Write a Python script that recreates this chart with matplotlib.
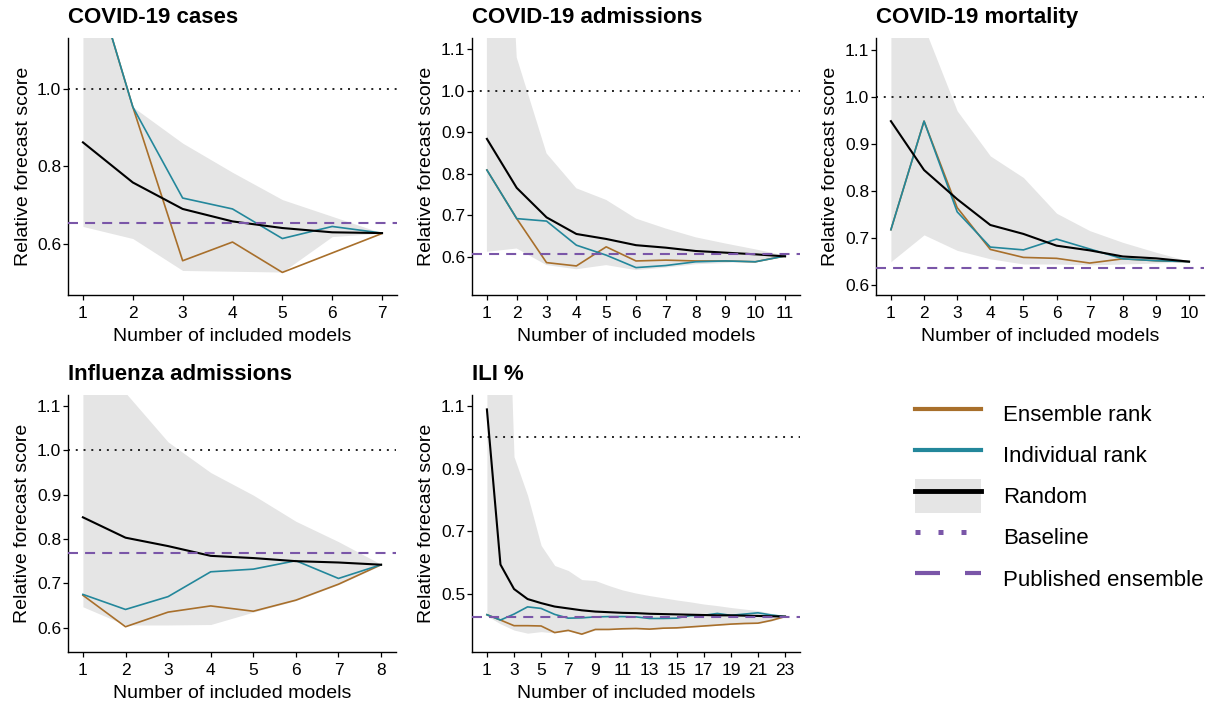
import matplotlib
matplotlib.use('Agg')
import matplotlib.pyplot as plt
from matplotlib.lines import Line2D
from matplotlib.patches import Patch
from matplotlib.ticker import FormatStrFormatter

plt.rcParams['font.family'] = ['Liberation Sans', 'DejaVu Sans']

# values (relative forecast score per number of models)
cases_n = [1, 2, 3, 4, 5, 6, 7]
cases_ensemble = [1.38, 0.953, 0.558, 0.606, 0.528, 0.578, 0.628]
cases_individual = [1.38, 0.953, 0.719, 0.691, 0.615, 0.646, 0.629]
cases_random = [0.862, 0.759, 0.691, 0.659, 0.642, 0.631, 0.629]
cases_upper = [1.38, 0.953, 0.860, 0.785, 0.715, 0.672, 0.629]
cases_lower = [0.646, 0.615, 0.533, 0.531, 0.529, 0.620, 0.629]
cases_published = 0.655

adm_n = [1, 2, 3, 4, 5, 6, 7, 8, 9, 10, 11]
adm_ensemble = [0.809, 0.692, 0.586, 0.578, 0.624, 0.590, 0.592, 0.590, 0.590, 0.588, 0.602]
adm_individual = [0.809, 0.692, 0.686, 0.628, 0.604, 0.574, 0.579, 0.588, 0.590, 0.588, 0.602]
adm_random = [0.884, 0.766, 0.695, 0.655, 0.643, 0.628, 0.622, 0.614, 0.610, 0.606, 0.601]
adm_upper = [2.5, 1.08, 0.849, 0.765, 0.737, 0.692, 0.668, 0.647, 0.632, 0.618, 0.603]
adm_lower = [0.612, 0.620, 0.580, 0.570, 0.580, 0.568, 0.574, 0.582, 0.585, 0.590, 0.600]
adm_published = 0.606

mort_n = [1, 2, 3, 4, 5, 6, 7, 8, 9, 10]
mort_ensemble = [0.718, 0.949, 0.765, 0.676, 0.659, 0.657, 0.647, 0.656, 0.652, 0.650]
mort_individual = [0.718, 0.949, 0.756, 0.681, 0.675, 0.698, 0.677, 0.656, 0.652, 0.650]
mort_random = [0.949, 0.845, 0.783, 0.728, 0.709, 0.684, 0.674, 0.661, 0.657, 0.650]
mort_upper = [1.3, 1.15, 0.971, 0.875, 0.829, 0.753, 0.716, 0.691, 0.670, 0.651]
mort_lower = [0.650, 0.707, 0.674, 0.656, 0.645, 0.645, 0.643, 0.645, 0.647, 0.650]
mort_published = 0.637

flu_n = [1, 2, 3, 4, 5, 6, 7, 8]
flu_ensemble = [0.673, 0.602, 0.635, 0.649, 0.637, 0.662, 0.698, 0.742]
flu_individual = [0.675, 0.641, 0.670, 0.726, 0.732, 0.751, 0.711, 0.742]
flu_random = [0.849, 0.803, 0.784, 0.762, 0.757, 0.750, 0.747, 0.742]
flu_upper = [1.5, 1.13, 1.019, 0.950, 0.899, 0.840, 0.794, 0.743]
flu_lower = [0.647, 0.606, 0.606, 0.607, 0.635, 0.661, 0.697, 0.741]
flu_published = 0.769

ili_n = list(range(1, 24))
ili_ensemble = [0.434, 0.417, 0.399, 0.399, 0.398, 0.377, 0.384, 0.372, 0.387, 0.387,
                0.389, 0.390, 0.388, 0.391, 0.392, 0.395, 0.398, 0.401, 0.404, 0.406,
                0.407, 0.416, 0.428]
ili_individual = [0.434, 0.417, 0.436, 0.459, 0.454, 0.435, 0.423, 0.424, 0.427, 0.428,
                  0.428, 0.427, 0.422, 0.422, 0.423, 0.431, 0.432, 0.438, 0.432, 0.436,
                  0.440, 0.433, 0.428]
ili_random = [1.089, 0.594, 0.516, 0.484, 0.471, 0.460, 0.454, 0.448, 0.444, 0.442,
              0.440, 0.439, 0.437, 0.436, 0.435, 0.434, 0.433, 0.432, 0.432, 0.431,
              0.430, 0.429, 0.428]
ili_upper = [2.5, 2.25, 0.938, 0.815, 0.655, 0.591, 0.575, 0.546, 0.543, 0.527,
             0.513, 0.503, 0.495, 0.488, 0.481, 0.475, 0.468, 0.463, 0.457, 0.452,
             0.447, 0.438, 0.429]
ili_lower = [0.430, 0.405, 0.385, 0.375, 0.380, 0.376, 0.382, 0.371, 0.385, 0.386,
             0.388, 0.389, 0.387, 0.390, 0.391, 0.394, 0.397, 0.400, 0.403, 0.405,
             0.406, 0.414, 0.427]
ili_published = 0.427

baseline = 1.0

BROWN = '#A86F2B'
TEAL = '#23879B'
PURPLE = '#7A56A8'
RIBBON = '#E5E5E5'

W, H = 1212, 702


def px_axes(fig, left, top, right, bottom):
    return fig.add_axes([left / W, 1 - bottom / H, (right - left) / W, (bottom - top) / H])


def draw_panel(ax, title, n, ensemble, individual, random, lower, upper,
               published, ylim, yticks, xticks):
    ax.fill_between(n, lower, upper, color=RIBBON, lw=0, zorder=1)
    ax.axhline(baseline, color='#222222', lw=1.4, ls=(0, (1, 3)), zorder=2)
    ax.plot(n, ensemble, color=BROWN, lw=1.2, zorder=3)
    ax.plot(n, individual, color=TEAL, lw=1.2, zorder=4)
    ax.plot(n, random, color='black', lw=1.5, zorder=5)
    ax.axhline(published, color=PURPLE, lw=1.5, ls=(0, (4.8, 3.4)), zorder=6)

    span = n[-1] - n[0]
    ax.set_xlim(n[0] - 0.05 * span, n[-1] + 0.05 * span)
    ax.set_ylim(*ylim)
    ax.set_xticks(xticks)
    ax.set_yticks(yticks)
    ax.yaxis.set_major_formatter(FormatStrFormatter('%.1f'))

    for side in ['top', 'right']:
        ax.spines[side].set_visible(False)
    for side in ['left', 'bottom']:
        ax.spines[side].set_linewidth(1.0)
    ax.tick_params(direction='out', length=3.3, width=0.9,
                   labelsize=12.5, colors='black')
    ax.tick_params(axis='x', pad=4.4)
    ax.tick_params(axis='y', pad=1.5)
    ax.set_xlabel('Number of included models', fontsize=14, labelpad=5)
    ax.set_ylabel('Relative forecast score', fontsize=14, labelpad=4)
    ax.set_title(title, loc='left', fontsize=16, fontweight='bold', pad=10.5)


def main():
    fig = plt.figure(figsize=(W / 100, H / 100), dpi=100)

    ax1 = px_axes(fig, 68, 38, 397, 295)
    draw_panel(ax1, 'COVID-19 cases', cases_n, cases_ensemble, cases_individual,
               cases_random, cases_lower, cases_upper, cases_published,
               (0.47, 1.13), [0.6, 0.8, 1.0], cases_n)

    ax2 = px_axes(fig, 472, 38, 800, 295)
    draw_panel(ax2, 'COVID-19 admissions', adm_n, adm_ensemble, adm_individual,
               adm_random, adm_lower, adm_upper, adm_published,
               (0.508, 1.127), [0.6, 0.7, 0.8, 0.9, 1.0, 1.1], adm_n)

    ax3 = px_axes(fig, 876, 38, 1204, 295)
    draw_panel(ax3, 'COVID-19 mortality', mort_n, mort_ensemble, mort_individual,
               mort_random, mort_lower, mort_upper, mort_published,
               (0.579, 1.126), [0.6, 0.7, 0.8, 0.9, 1.0, 1.1], mort_n)

    ax4 = px_axes(fig, 68, 395, 396, 652)
    draw_panel(ax4, 'Influenza admissions', flu_n, flu_ensemble, flu_individual,
               flu_random, flu_lower, flu_upper, flu_published,
               (0.545, 1.125), [0.6, 0.7, 0.8, 0.9, 1.0, 1.1], flu_n)

    ax5 = px_axes(fig, 472, 395, 800, 652)
    draw_panel(ax5, 'ILI %', ili_n, ili_ensemble, ili_individual,
               ili_random, ili_lower, ili_upper, ili_published,
               (0.315, 1.135), [0.5, 0.7, 0.9, 1.1], ili_n[::2])

    handles = [
        Line2D([], [], color=BROWN, lw=3),
        Line2D([], [], color=TEAL, lw=3),
        (Patch(facecolor=RIBBON, edgecolor='none'), Line2D([], [], color='black', lw=3.5)),
        Line2D([], [], color=PURPLE, lw=3.6, ls=(0, (1, 3.6))),
        Line2D([], [], color=PURPLE, lw=3, ls=(0, (6, 6))),
    ]
    labels = ['Ensemble rank', 'Individual rank', 'Random', 'Baseline', 'Published ensemble']
    fig.legend(handles, labels, loc='center left', bbox_to_anchor=(915 / W, 1 - 496 / H),
               frameon=False, fontsize=16, handlelength=2.95, handleheight=2.0,
               labelspacing=0.31, handletextpad=1.02, borderpad=0, borderaxespad=0)

    fig.savefig('out.png', dpi=100)


if __name__ == '__main__':
    main()
